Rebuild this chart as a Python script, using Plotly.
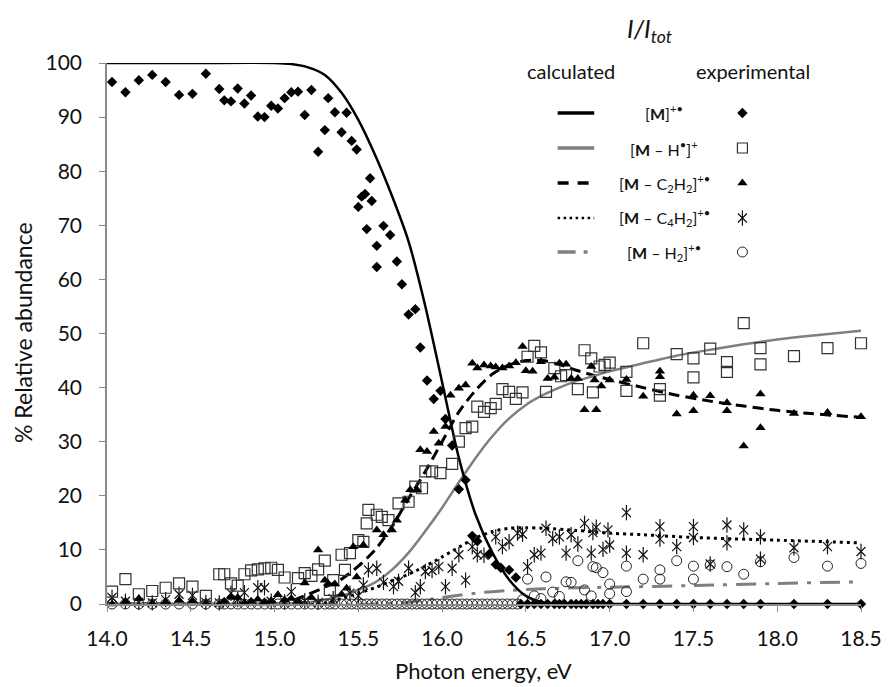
import plotly.graph_objects as go

# ---------------- calculated curves ----------------
calc_M_x = [14.0, 14.5, 15.0, 15.1, 15.2, 15.3, 15.4, 15.5, 15.6, 15.7, 15.8, 15.9, 16.0, 16.1, 16.2, 16.3, 16.4, 16.5, 16.6, 16.7, 17.0, 17.5, 18.0, 18.5]
calc_M_y = [100, 100, 100, 99.8, 99.2, 97.8, 94.5, 89.5, 83, 75.5, 67, 55, 41, 27, 16.5, 9.5, 4.5, 1.5, 0.3, 0, 0, 0, 0, 0]

calc_MH_x = [14.0, 14.5, 15.0, 15.2, 15.3, 15.4, 15.5, 15.6, 15.7, 15.8, 15.9, 16.0, 16.1, 16.2, 16.3, 16.4, 16.5, 16.6, 16.7, 16.8, 16.9, 17.0, 17.2, 17.4, 17.6, 17.8, 18.0, 18.2, 18.5]
calc_MH_y = [0, 0, 0.1, 0.3, 0.8, 1.5, 2.6, 4.0, 6.3, 9.5, 13.5, 17.8, 22.5, 27, 31, 34.3, 36.8, 38.6, 40, 41.2, 42.1, 43, 44.5, 45.9, 47, 48, 48.9, 49.6, 50.5]

calc_C2_x = [14.0, 14.5, 15.0, 15.1, 15.2, 15.3, 15.4, 15.5, 15.6, 15.7, 15.8, 15.9, 16.0, 16.1, 16.2, 16.3, 16.4, 16.5, 16.6, 16.7, 16.8, 16.9, 17.0, 17.2, 17.4, 17.6, 17.8, 18.0, 18.2, 18.5]
calc_C2_y = [0, 0, 0, 0.6, 1.8, 3.1, 4.6, 7.0, 10.0, 14.3, 19.5, 24.5, 30, 35.5, 39.5, 42.5, 44.2, 45, 45, 44.3, 43.2, 42.3, 41.5, 40, 38.6, 37.5, 36.6, 35.8, 35.2, 34.5]

calc_C4_x = [14.0, 15.0, 15.3, 15.4, 15.5, 15.6, 15.7, 15.8, 15.9, 16.0, 16.1, 16.2, 16.3, 16.4, 16.5, 16.6, 16.8, 17.0, 17.2, 17.5, 18.0, 18.5]
calc_C4_y = [0, 0, 0.2, 1, 2, 3, 4.3, 5.5, 7, 8.7, 10.5, 12.2, 13.4, 14, 14.1, 14, 13.6, 13.1, 12.8, 12.3, 11.8, 11.3]

calc_H2_x = [14.0, 15.6, 15.8, 16.0, 16.2, 16.4, 16.6, 16.8, 17.0, 17.5, 18.0, 18.5]
calc_H2_y = [0, 0, 0.3, 1.2, 2.0, 2.5, 2.8, 3.0, 3.1, 3.4, 3.8, 4.1]

# ---------------- experimental points ----------------
exp_M_x = [14.03, 14.11, 14.19, 14.27, 14.35, 14.43, 14.51, 14.59, 14.67, 14.70, 14.74, 14.78, 14.82, 14.86, 14.90, 14.94,
           14.98, 15.02, 15.06, 15.10, 15.14, 15.18, 15.22, 15.26, 15.30, 15.32, 15.36, 15.40, 15.43, 15.46, 15.49, 15.50,
           15.52, 15.54, 15.55, 15.57, 15.58, 15.61, 15.61, 15.65, 15.69, 15.73, 15.76, 15.80, 15.84, 15.87, 15.91, 15.95,
           15.99, 16.02, 16.06, 16.10, 16.14, 16.18, 16.21, 16.28, 16.32, 16.35, 16.40, 16.44,
           16.47, 16.51, 16.55, 16.59, 16.63, 16.67, 16.70, 16.73, 16.77, 16.80, 16.83, 16.86, 16.90, 16.93, 16.96, 17.0,
           17.1, 17.2, 17.3, 17.4, 17.5, 17.6, 17.7, 17.8, 17.9, 18.1, 18.3, 18.5]
exp_M_y = [96.5, 94.6, 96.8, 97.8, 96.5, 94.1, 94.3, 98.0, 95.2, 93.1, 92.9, 95.3, 92.5, 94.0, 90.1, 90.0,
           92.1, 91.6, 93.5, 94.6, 94.7, 90.4, 95.0, 83.6, 87.6, 93.5, 90.9, 87.2, 90.8, 85.6, 84.0, 73.4,
           75.3, 75.8, 69.3, 78.7, 74.5, 66.2, 62.3, 69.9, 68.2, 63.3, 59.1, 53.5, 54.5, 47.4, 41.3, 37.9,
           39.4, 34.2, 29.3, 21.2, 22.9, 12.6, 11.6, 9.2, 7.3, 6.7, 6.3, 4.9,
           0, 0, 0, 0, 0, 0, 0, 0, 0, 0, 0, 0, 0, 0, 0, 0,
           0, 0, 0, 0, 0, 0, 0, 0, 0, 0, 0, 0]

exp_MH_x = [14.03, 14.11, 14.19, 14.27, 14.35, 14.43, 14.51, 14.59, 14.67, 14.70, 14.74, 14.78, 14.82, 14.86, 14.90, 14.94,
            14.98, 15.02, 15.06, 15.14, 15.18, 15.22, 15.26, 15.30, 15.33, 15.35, 15.40, 15.42, 15.45, 15.50, 15.53, 15.55,
            15.56, 15.61, 15.64, 15.68, 15.74, 15.80, 15.84, 15.88, 15.90, 15.94, 15.99, 16.06, 16.10, 16.14, 16.18, 16.21,
            16.25, 16.29, 16.32, 16.36, 16.40, 16.44, 16.48, 16.51, 16.55, 16.59, 16.62, 16.67, 16.71, 16.74, 16.81, 16.85,
            16.89, 16.90, 16.94, 16.97, 17.0, 17.1, 17.1, 17.2, 17.3, 17.3, 17.4, 17.5, 17.5, 17.6, 17.7, 17.7,
            17.8, 17.9, 17.9, 18.1, 18.3, 18.5]
exp_MH_y = [2.3, 4.6, 1.8, 2.4, 3.0, 3.8, 3.2, 1.5, 5.5, 5.5, 3.8, 3.4, 5.5, 6.2, 6.4, 6.6,
            6.7, 6.3, 4.9, 4.8, 5.7, 5.2, 6.4, 8.0, 2.6, 4.4, 9.1, 6.3, 9.4, 11.8, 11.5, 14.9,
            17.4, 16.5, 16.1, 15.5, 18.6, 18.9, 21.7, 21.4, 24.5, 24.5, 24.2, 25.9, 30.0, 32.5, 32.8, 36.5,
            35.5, 36.2, 37.0, 39.7, 39.2, 37.9, 39.1, 45.7, 47.7, 46.5, 39.2, 43.6, 42.1, 42.3, 39.7, 46.9,
            45.4, 39.1, 43.9, 44.2, 44.6, 42.9, 39.4, 48.2, 39.7, 38.5, 46.2, 45.4, 41.9, 47.2, 44.7, 42.9,
            51.9, 47.3, 44.3, 45.8, 47.3, 48.2]

exp_C2_x = [14.03, 14.11, 14.19, 14.27, 14.35, 14.43, 14.51, 14.59, 14.67, 14.70, 14.74, 14.78, 14.82, 14.86, 14.90, 14.94,
            14.98, 15.02, 15.06, 15.10, 15.14, 15.18, 15.22, 15.26, 15.30, 15.32, 15.36, 15.40, 15.43, 15.47, 15.49, 15.53,
            15.61, 15.65, 15.70, 15.73, 15.78, 15.81, 15.85, 15.87, 15.91, 15.95, 15.98, 16.02, 16.05, 16.10, 16.14, 16.18,
            16.21, 16.25, 16.29, 16.32, 16.36, 16.40, 16.44, 16.48, 16.50, 16.54, 16.59, 16.63, 16.67, 16.70, 16.74, 16.77,
            16.81, 16.85, 16.89, 16.91, 16.92, 16.95, 17.0, 17.1, 17.2, 17.3, 17.3, 17.4, 17.5, 17.5, 17.6, 17.7,
            17.7, 17.8, 17.9, 17.9, 18.1, 18.3, 18.5]
exp_C2_y = [0.0, 0.5, 1.0, 0.2, 0.4, 0.7, 0.6, 0.2, 0.0, 0.5, 1.3, 1.2, 0.3, 0.5, 0.9, 0.4,
            0.6, 1.7, 0.8, 1.0, 0.5, 3.9, 1.2, 10.0, 4.4, 3.8, 3.7, 1.8, 2.9, 10.6, 5.0, 10.9,
            13.7, 12.8, 13.7, 15.5, 19.2, 21.1, 21.1, 28.5, 28.2, 31.9, 29.7, 32.8, 38.6, 39.9, 40.5, 44.5,
            43.6, 44.2, 44.0, 43.8, 43.6, 44.0, 44.6, 47.6, 43.1, 43.0, 44.8, 41.7, 41.9, 44.5, 44.3, 41.7,
            41.7, 35.9, 43.9, 41.4, 35.9, 40.3, 41.4, 41.5, 38.4, 43.0, 42.0, 35.1, 38.6, 35.7, 38.5, 37.2,
            35.7, 29.2, 38.8, 32.6, 35.2, 35.4, 34.6]

exp_C4_x = [14.03, 14.11, 14.19, 14.27, 14.35, 14.43, 14.51, 14.59, 14.67, 14.74, 14.78, 14.82, 14.90, 14.94, 14.98, 15.06,
            15.10, 15.18, 15.26, 15.35, 15.45, 15.50, 15.53, 15.56, 15.61, 15.65, 15.71, 15.74, 15.80, 15.84, 15.87, 15.90,
            15.94, 15.98, 16.02, 16.06, 16.10, 16.14, 16.18, 16.21, 16.25, 16.32, 16.36, 16.40, 16.45, 16.48, 16.51, 16.55,
            16.59, 16.62, 16.66, 16.70, 16.74, 16.77, 16.81, 16.85, 16.89, 16.90, 16.92, 16.96, 16.99, 17.0, 17.1, 17.1,
            17.2, 17.3, 17.3, 17.4, 17.5, 17.5, 17.6, 17.7, 17.7, 17.8, 17.9, 17.9, 18.1, 18.3, 18.5]
exp_C4_y = [1.2, 0.5, 0.3, 0.2, 0.8, 1.8, 1.6, 0.3, 0.2, 2.0, 0.8, 2.1, 3.0, 3.0, 0.5, 0.4,
            2.3, 0.6, 0.3, 1.0, 2.0, 1.5, 3.5, 6.3, 6.6, 4.0, 3.2, 4.2, 6.6, 2.1, 3.2, 6.0,
            6.2, 6.9, 3.2, 6.6, 9.1, 4.4, 10.6, 9.1, 9.0, 12.4, 10.6, 11.5, 13.1, 12.9, 6.9, 9.1,
            9.4, 14.0, 12.1, 12.4, 9.4, 12.8, 11.1, 14.9, 9.4, 13.2, 14.2, 10.1, 13.7, 10.9, 16.9, 9.4,
            9.1, 14.3, 12.0, 10.6, 14.3, 12.3, 7.4, 14.6, 11.3, 13.7, 12.4, 8.3, 10.4, 10.6, 9.7]

exp_H2_x = [14.03, 14.11, 14.19, 14.27, 14.35, 14.43, 14.51, 14.59, 14.67, 14.70, 14.74, 14.78, 14.82, 14.86, 14.90, 14.94,
            14.98, 15.02, 15.06, 15.10, 15.14, 15.18, 15.22, 15.26, 15.30, 15.33, 15.36, 15.40, 15.43, 15.46, 15.49, 15.52,
            15.55, 15.58, 15.61, 15.64, 15.67, 15.70, 15.73, 15.76, 15.79, 15.82, 15.85, 15.88, 15.91, 15.94, 15.97, 16.00,
            16.03, 16.06, 16.09, 16.12, 16.15, 16.18, 16.21, 16.24, 16.27, 16.30, 16.33, 16.36, 16.39, 16.42, 16.45,
            16.48, 16.51, 16.55, 16.59, 16.62, 16.66, 16.70, 16.74, 16.77, 16.81, 16.85, 16.89, 16.90, 16.92, 16.96, 17.0,
            17.0, 17.1, 17.1, 17.2, 17.3, 17.3, 17.4, 17.5, 17.5, 17.6, 17.7, 17.8, 17.9, 18.1, 18.3, 18.5]
exp_H2_y = [0, 0, 0, 0, 0, 0, 0, 0, 0, 0, 0, 0, 0, 0, 0, 0,
            0, 0, 0, 0, 0, 0, 0, 0, 0, 0, 0, 0, 0, 0, 0, 0,
            0, 0, 0, 0, 0, 0, 0, 0, 0, 0, 0, 0, 0, 0, 0, 0,
            0, 0, 0, 0, 0, 0, 0, 0, 0, 0, 0, 0, 0, 0, 0,
            0.8, 4.6, 1.5, 1.0, 5.0, 2.2, 1.4, 4.1, 4.0, 8.0, 2.6, 1.5, 6.9, 6.7, 5.8, 3.7,
            1.9, 7.0, 2.3, 4.6, 6.3, 4.6, 8.0, 7.0, 4.6, 7.2, 6.9, 5.5, 7.8, 8.6, 7.0, 7.5]

x_ticks = [14.0, 14.5, 15.0, 15.5, 16.0, 16.5, 17.0, 17.5, 18.0, 18.5]
y_ticks = [0, 10, 20, 30, 40, 50, 60, 70, 80, 90, 100]

legend_labels = ["[<b>M</b>]<sup>+•</sup>",
                 "[<b>M</b> – H<sup>•</sup>]<sup>+</sup>",
                 "[<b>M</b> – C<sub>2</sub>H<sub>2</sub>]<sup>+•</sup>",
                 "[<b>M</b> – C<sub>4</sub>H<sub>2</sub>]<sup>+•</sup>",
                 "[<b>M</b> – H<sub>2</sub>]<sup>+•</sup>"]

# ---------------- layout geometry (pixels) ----------------
W, H = 894, 687
L, R, T, B = 107, 24, 63, 83
PW, PH = W - L - R, H - T - B

def px(p):
    return (p - L) / PW

def py(p):
    return (H - B - p) / PH

FONT = "Lato"
BLACK = "#000000"
GRAY = "#7f7f7f"
AX = "#8a8a8a"
TXT = "#111111"

fig = go.Figure()

# calculated lines
fig.add_trace(go.Scatter(x=calc_H2_x, y=calc_H2_y, mode="lines", line=dict(color=GRAY, width=3, dash="20px,9px,4px,9px", shape="spline", smoothing=0.8)))
fig.add_trace(go.Scatter(x=calc_C4_x, y=calc_C4_y, mode="lines", line=dict(color=BLACK, width=3, dash="3px,4px", shape="spline", smoothing=0.8)))
fig.add_trace(go.Scatter(x=calc_C2_x, y=calc_C2_y, mode="lines", line=dict(color=BLACK, width=3, dash="11px,6px", shape="spline", smoothing=0.8)))
fig.add_trace(go.Scatter(x=calc_MH_x, y=calc_MH_y, mode="lines", line=dict(color=GRAY, width=2.5, shape="spline", smoothing=0.8)))
fig.add_trace(go.Scatter(x=calc_M_x, y=calc_M_y, mode="lines", line=dict(color=BLACK, width=2.5, shape="spline", smoothing=0.8)))

# experimental markers
fig.add_trace(go.Scatter(x=exp_H2_x, y=exp_H2_y, mode="markers", cliponaxis=False,
                         marker=dict(symbol="circle-open", size=10, color="#222222", line=dict(width=1))))
fig.add_trace(go.Scatter(x=exp_C4_x, y=exp_C4_y, mode="markers", cliponaxis=False,
                         marker=dict(symbol="x-thin-open", size=9, color="#111111", line=dict(width=1.2))))
fig.add_trace(go.Scatter(x=exp_C4_x, y=exp_C4_y, mode="markers", cliponaxis=False,
                         marker=dict(symbol="line-ns-open", size=11, color="#111111", line=dict(width=1.2))))
fig.add_trace(go.Scatter(x=exp_MH_x, y=exp_MH_y, mode="markers", cliponaxis=False,
                         marker=dict(symbol="square-open", size=11, color="#333333", line=dict(width=1.2))))
fig.add_trace(go.Scatter(x=exp_C2_x, y=exp_C2_y, mode="markers", cliponaxis=False,
                         marker=dict(symbol="triangle-up", size=9, color=BLACK, line=dict(width=0))))
fig.add_trace(go.Scatter(x=exp_M_x, y=exp_M_y, mode="markers", cliponaxis=False,
                         marker=dict(symbol="diamond", size=8, color=BLACK, line=dict(width=0))))

# ---------------- custom legend ----------------
row_y = [113, 148, 183, 218, 252]
line_styles = [dict(color=BLACK, width=3.5, dash="solid"),
               dict(color=GRAY, width=3.5, dash="solid"),
               dict(color=BLACK, width=3.5, dash="11px,9px"),
               dict(color=BLACK, width=2.5, dash="2.5px,3.5px"),
               dict(color=GRAY, width=3.5, dash="18px,8px,4px,8px")]
shapes = []
for yy, ls in zip(row_y, line_styles):
    shapes.append(dict(type="line", xref="paper", yref="paper", x0=px(563), x1=px(600), y0=py(yy), y1=py(yy), line=ls))

leg_markers = [dict(symbol="diamond", size=8, color=BLACK),
               dict(symbol="square-open", size=10, color="#333333", line=dict(width=1.2)),
               dict(symbol="triangle-up", size=9, color=BLACK),
               dict(symbol="x-thin-open", size=9, color="#111111", line=dict(width=1.2)),
               dict(symbol="circle-open", size=10, color="#222222", line=dict(width=1))]
for yy, mk in zip(row_y, leg_markers):
    fig.add_trace(go.Scatter(x=[px(750)], y=[py(yy)], xaxis="x2", yaxis="y2", mode="markers",
                             cliponaxis=False, marker=mk))
fig.add_trace(go.Scatter(x=[px(750)], y=[py(row_y[3])], xaxis="x2", yaxis="y2", mode="markers",
                         cliponaxis=False, marker=dict(symbol="line-ns-open", size=11, color="#111111", line=dict(width=1.2))))

def ann(text, x, y, size, angle=0):
    return dict(text=text, x=px(x), y=py(y), xref="paper", yref="paper", xanchor="center", yanchor="middle",
                textangle=angle, showarrow=False, font=dict(family=FONT, size=size, color=TXT))

annotations = [ann("<i>I/I<sub>tot</sub></i>", 656, 30, 25),
               ann("calculated", 577, 71, 20),
               ann("experimental", 761, 71, 20)]
for yy, lab in zip(row_y, legend_labels):
    annotations.append(ann(lab, 671, yy, 16))
annotations.append(ann("% Relative abundance", 22, 333, 23, -90))
annotations.append(ann("Photon energy, eV", 488, 670, 22))

fig.update_layout(
    width=W, height=H, autosize=False,
    margin=dict(l=L, r=R, t=T, b=B, pad=0),
    paper_bgcolor="white", plot_bgcolor="white",
    showlegend=False,
    font=dict(family=FONT, size=21, color=TXT),
    shapes=shapes, annotations=annotations,
    xaxis=dict(range=[14, 18.5], tickvals=x_ticks, ticktext=[f"{v:.1f}" for v in x_ticks],
               showline=True, linecolor=AX, linewidth=1.5, ticks="outside", ticklen=6, tickcolor=AX,
               tickwidth=1.2, showgrid=False, zeroline=False, ticklabelstandoff=9,
               tickfont=dict(family=FONT, size=21, color=TXT)),
    yaxis=dict(range=[0, 100], tickvals=y_ticks, showline=True, linecolor=AX, linewidth=1.5,
               ticks="outside", ticklen=6, tickcolor=AX, tickwidth=1.2, showgrid=False, zeroline=False,
               ticklabelstandoff=13, tickfont=dict(family=FONT, size=21, color=TXT)),
    xaxis2=dict(range=[0, 1], domain=[0, 1], overlaying="x", visible=False, fixedrange=True),
    yaxis2=dict(range=[0, 1], domain=[0, 1], overlaying="y", visible=False, fixedrange=True),
)

fig.write_html("out.html")
